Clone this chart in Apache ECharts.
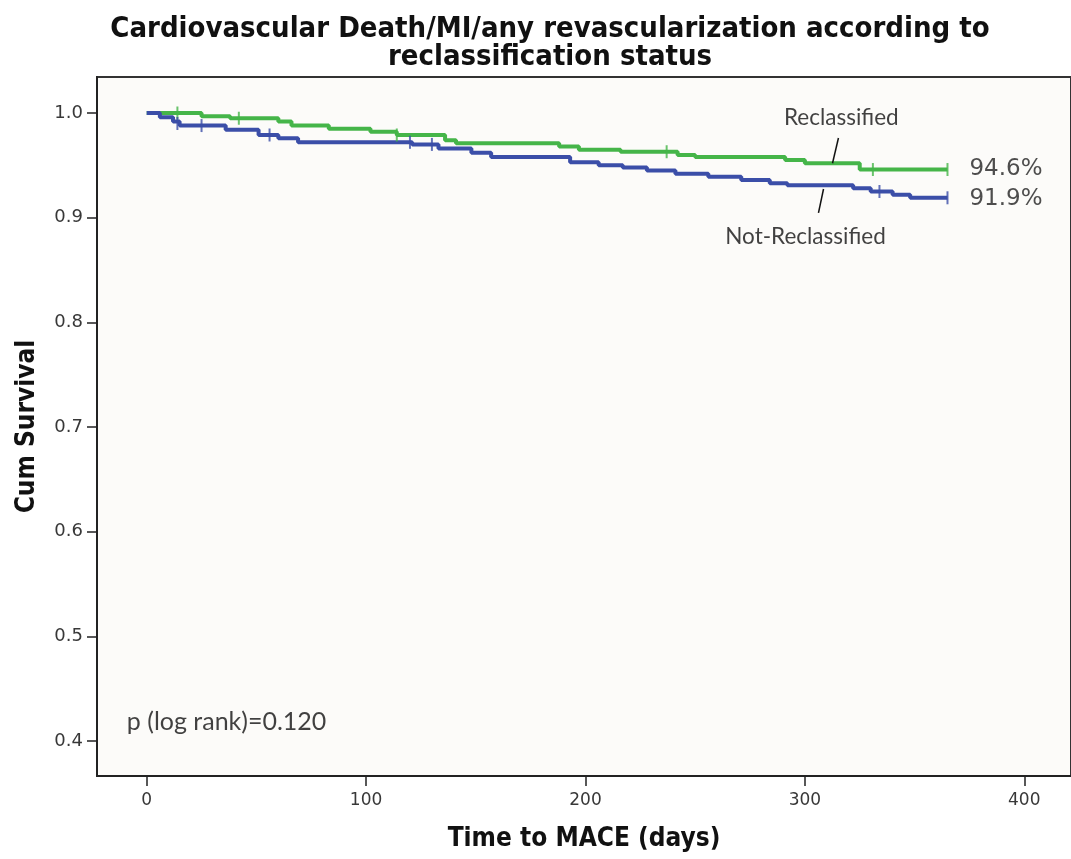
<!DOCTYPE html>
<html>
<head>
<meta charset="utf-8">
<script src="https://cdn.jsdelivr.net/npm/echarts@6/dist/echarts.min.js"></script>
<style>html,body{margin:0;padding:0;background:#fff}#c{width:1071px;height:859px}</style>
</head>
<body>
<div id="c"></div>
<script>
// Kaplan-Meier step points [day, cumulative survival]
const reclassified = [
  [0,1.0],[25,0.997],[38,0.995],[60,0.992],[66,0.988],[83,0.985],[102,0.982],
  [114,0.979],[136,0.974],[141,0.971],[188,0.968],[197,0.965],[216,0.963],
  [242,0.960],[250,0.958],[291,0.955],[300,0.952],[325,0.946],[365,0.946]
];
const notReclassified = [
  [0,1.0],[6,0.996],[12,0.992],[15,0.988],[36,0.984],[51,0.979],[60,0.976],
  [69,0.972],[121,0.970],[133,0.966],[148,0.962],[157,0.958],[193,0.953],
  [206,0.950],[217,0.948],[228,0.945],[241,0.942],[256,0.939],[271,0.936],
  [284,0.933],[292,0.931],[322,0.928],[330,0.925],[340,0.922],[348,0.919],[365,0.919]
];
// censoring marks [day, survival]
const reclassifiedCensored = [[14,1.0],[42,0.995],[114,0.979],[237,0.963],[331,0.946],[365,0.946]];
const notReclassifiedCensored = [[14,0.990],[25,0.988],[56,0.979],[120,0.972],[130,0.970],[334,0.925],[365,0.919]];
// tick labels
const xTicks = [0,100,200,300,400];
const yTicks = [0.4,0.5,0.6,0.7,0.8,0.9,1.0];
// end labels
const endLabels = [[375,0.946,'94.6%'],[375,0.918,'91.9%']];
// annotation labels and leader lines (data coordinates)
const annoLabels = [[316.6,0.9952,'Reclassified'],[300.3,0.8815,'Not-Reclassified']];
const leaderLines = [[[315.3,0.9761],[312.6,0.952]],[[308.5,0.9274],[306.2,0.9045]]];
const pNote = [[-9.06,0.4182,'p (log rank)=0.120']];

const GREEN = '#45b549', BLUE = '#3b4ea8';
const chart = echarts.init(document.getElementById('c'), null, {renderer:'canvas'});
chart.setOption({
  backgroundColor:'#ffffff',
  animation:false,
  title:{
    text:'Cardiovascular Death/MI/any revascularization according to\nreclassification status',
    left:545, top:10, textAlign:'center',
    textStyle:{fontFamily:'DejaVu Sans Condensed', fontWeight:'bold', fontSize:29, color:'#111', lineHeight:28}
  },
  grid:{left:97, top:77, right:-6, bottom:83, show:true, backgroundColor:'#fcfbf9', borderColor:'#333', borderWidth:2},
  xAxis:{
    type:'value', min:-22.65, max:421.3,
    name:'Time to MACE (days)', nameLocation:'middle', nameGap:50,
    nameTextStyle:{fontFamily:'DejaVu Sans Condensed', fontWeight:'bold', fontSize:26, color:'#111'},
    axisLine:{show:true, onZero:false, lineStyle:{color:'#222', width:2}},
    splitLine:{show:false},
    axisTick:{show:true, customValues:xTicks, length:10, lineStyle:{color:'#222', width:1.5}},
    axisLabel:{customValues:xTicks, fontFamily:'DejaVu Sans', fontSize:17, color:'#383838', margin:16}
  },
  yAxis:{
    type:'value', min:0.3666, max:1.0344,
    name:'Cum Survival', nameLocation:'middle', nameGap:57,
    nameTextStyle:{fontFamily:'DejaVu Sans Condensed', fontWeight:'bold', fontSize:26, color:'#111'},
    axisLine:{show:true, onZero:false, lineStyle:{color:'#222', width:2}},
    splitLine:{show:false},
    axisTick:{show:true, customValues:yTicks, length:10, lineStyle:{color:'#222', width:1.5}},
    axisLabel:{customValues:yTicks, fontFamily:'DejaVu Sans', fontSize:18, color:'#383838', margin:14,
      formatter:v=>v.toFixed(1)}
  },
  series:[
    {type:'line', step:'end', data:reclassified, symbol:'none', lineStyle:{color:GREEN, width:4}, z:3},
    {type:'line', step:'end', data:notReclassified, symbol:'none', lineStyle:{color:BLUE, width:4}, z:4},
    {type:'scatter', data:reclassifiedCensored, symbol:'rect', symbolSize:[2,13], itemStyle:{color:GREEN}, z:5},
    {type:'scatter', data:notReclassifiedCensored, symbol:'rect', symbolSize:[2,13], itemStyle:{color:BLUE}, z:5},
    {type:'scatter', data:endLabels.map(d=>({value:[d[0],d[1]], name:d[2]})), symbolSize:0,
      label:{show:true, position:'right', distance:0, formatter:p=>p.name,
        fontFamily:'DejaVu Sans', fontSize:23, color:'#222'}},
    {type:'scatter', data:annoLabels.map(d=>({value:[d[0],d[1]], name:d[2]})), symbolSize:0,
      label:{show:true, position:'inside', formatter:p=>p.name,
        fontFamily:'Lato', fontSize:22.5, color:'#111'}},
    {type:'lines', coordinateSystem:'cartesian2d', data:leaderLines.map(c=>({coords:c})),
      lineStyle:{color:'#111', width:1.5, opacity:1}, z:6},
    {type:'scatter', data:pNote.map(d=>({value:[d[0],d[1]], name:d[2]})), symbolSize:0,
      label:{show:true, position:'right', distance:0, formatter:p=>p.name,
        fontFamily:'Lato', fontSize:25, color:'#111'}}
  ]
});
</script>
</body>
</html>
